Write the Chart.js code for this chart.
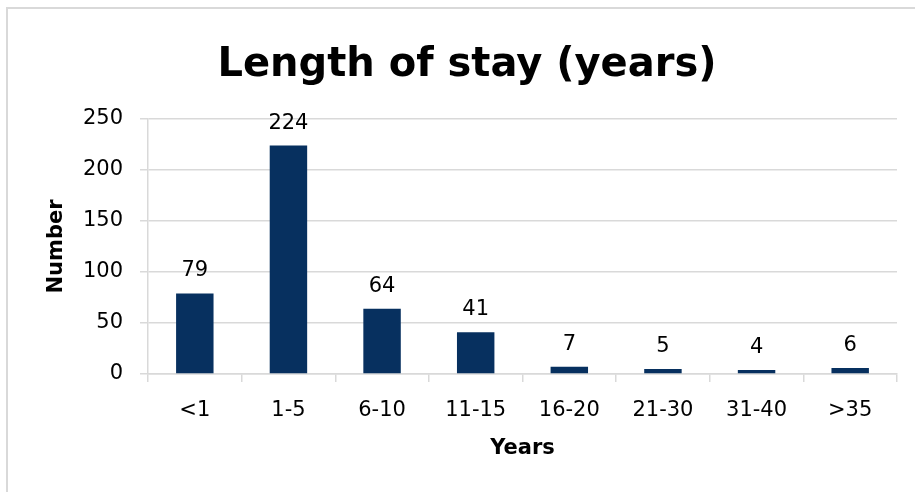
<!DOCTYPE html>
<html>
<head>
<meta charset="utf-8">
<script src="https://cdn.jsdelivr.net/npm/chart.js@4"></script>
<style>
    html, body { margin: 0; padding: 0; background: #fff; overflow: hidden; }
    canvas { display: block; }
</style>
</head>
<body>
<canvas id="chart" width="915" height="492"></canvas>
<script>
    var categories = ['<1', '1-5', '6-10', '11-15', '16-20', '21-30', '31-40', '>35'];
    var counts = [79, 224, 64, 41, 7, 5, 4, 6];
    var yTicks = [0, 50, 100, 150, 200, 250];

    var FONT = '"DejaVu Sans", sans-serif';

    // Light grey frame on the left and top edge, as in the source picture
    var frameLines = {
        id: 'frameLines',
        beforeDraw: function (chart) {
            var ctx = chart.ctx;
            ctx.save();
            ctx.strokeStyle = '#d9d9d9';
            ctx.lineWidth = 2;
            ctx.beginPath();
            ctx.moveTo(7, chart.height);
            ctx.lineTo(7, 8);
            ctx.lineTo(chart.width, 8);
            ctx.stroke();
            ctx.restore();
        }
    };

    // Draws the value above each bar
    var valueLabels = {
        id: 'valueLabels',
        afterDatasetsDraw: function (chart) {
            var ctx = chart.ctx;
            var meta = chart.getDatasetMeta(0);
            ctx.save();
            ctx.font = '21px ' + FONT;
            ctx.fillStyle = '#000';
            ctx.textAlign = 'center';
            ctx.textBaseline = 'alphabetic';
            meta.data.forEach(function (bar, i) {
                ctx.fillText(String(counts[i]), bar.x, bar.y - 17);
            });
            ctx.restore();
        }
    };

    // Chart title, drawn centred over the whole frame
    var titleText = {
        id: 'titleText',
        afterDraw: function (chart) {
            var ctx = chart.ctx;
            ctx.save();
            ctx.font = 'bold 40px ' + FONT;
            ctx.fillStyle = '#000';
            ctx.textAlign = 'center';
            ctx.textBaseline = 'alphabetic';
            ctx.fillText('Length of stay (years)', 467, 76);
            ctx.restore();
        }
    };

    new Chart(document.getElementById('chart'), {
        type: 'bar',
        data: {
            labels: categories,
            datasets: [{
                label: 'Number',
                data: counts,
                backgroundColor: '#07305f',
                borderWidth: 0,
                barPercentage: 0.4,
                categoryPercentage: 1.0
            }]
        },
        options: {
            responsive: false,
            animation: false,
            layout: {
                padding: {top: 119, right: 18, bottom: 27, left: 40}
            },
            plugins: {
                legend: {display: false},
                tooltip: {enabled: false},
                title: {display: false}
            },
            scales: {
                x: {
                    afterFit: function (scale) { scale.height = 91; },
                    grid: {
                        drawOnChartArea: false,
                        drawTicks: true,
                        offset: true,
                        tickLength: 8,
                        color: '#d9d9d9',
                        lineWidth: 1.5
                    },
                    border: {color: '#d9d9d9', width: 1.5},
                    ticks: {
                        color: '#000',
                        padding: 16,
                        maxRotation: 0,
                        font: {family: FONT, size: 21}
                    },
                    title: {
                        display: true,
                        text: 'Years',
                        color: '#000',
                        padding: 4,
                        font: {family: FONT, size: 21, weight: 'bold'}
                    }
                },
                y: {
                    min: 0,
                    max: 250,
                    afterFit: function (scale) { scale.width = 108; },
                    afterBuildTicks: function (scale) {
                        scale.ticks = yTicks.map(function (v) { return {value: v}; });
                    },
                    grid: {
                        color: '#d9d9d9',
                        lineWidth: 1.5,
                        tickLength: 8
                    },
                    border: {color: '#d9d9d9', width: 1.5},
                    ticks: {
                        color: '#000',
                        padding: 17,
                        font: {family: FONT, size: 21}
                    },
                    title: {
                        display: true,
                        text: 'Number',
                        color: '#000',
                        padding: 4,
                        font: {family: FONT, size: 21, weight: 'bold'}
                    }
                }
            }
        },
        plugins: [frameLines, valueLabels, titleText]
    });
</script>
</body>
</html>
